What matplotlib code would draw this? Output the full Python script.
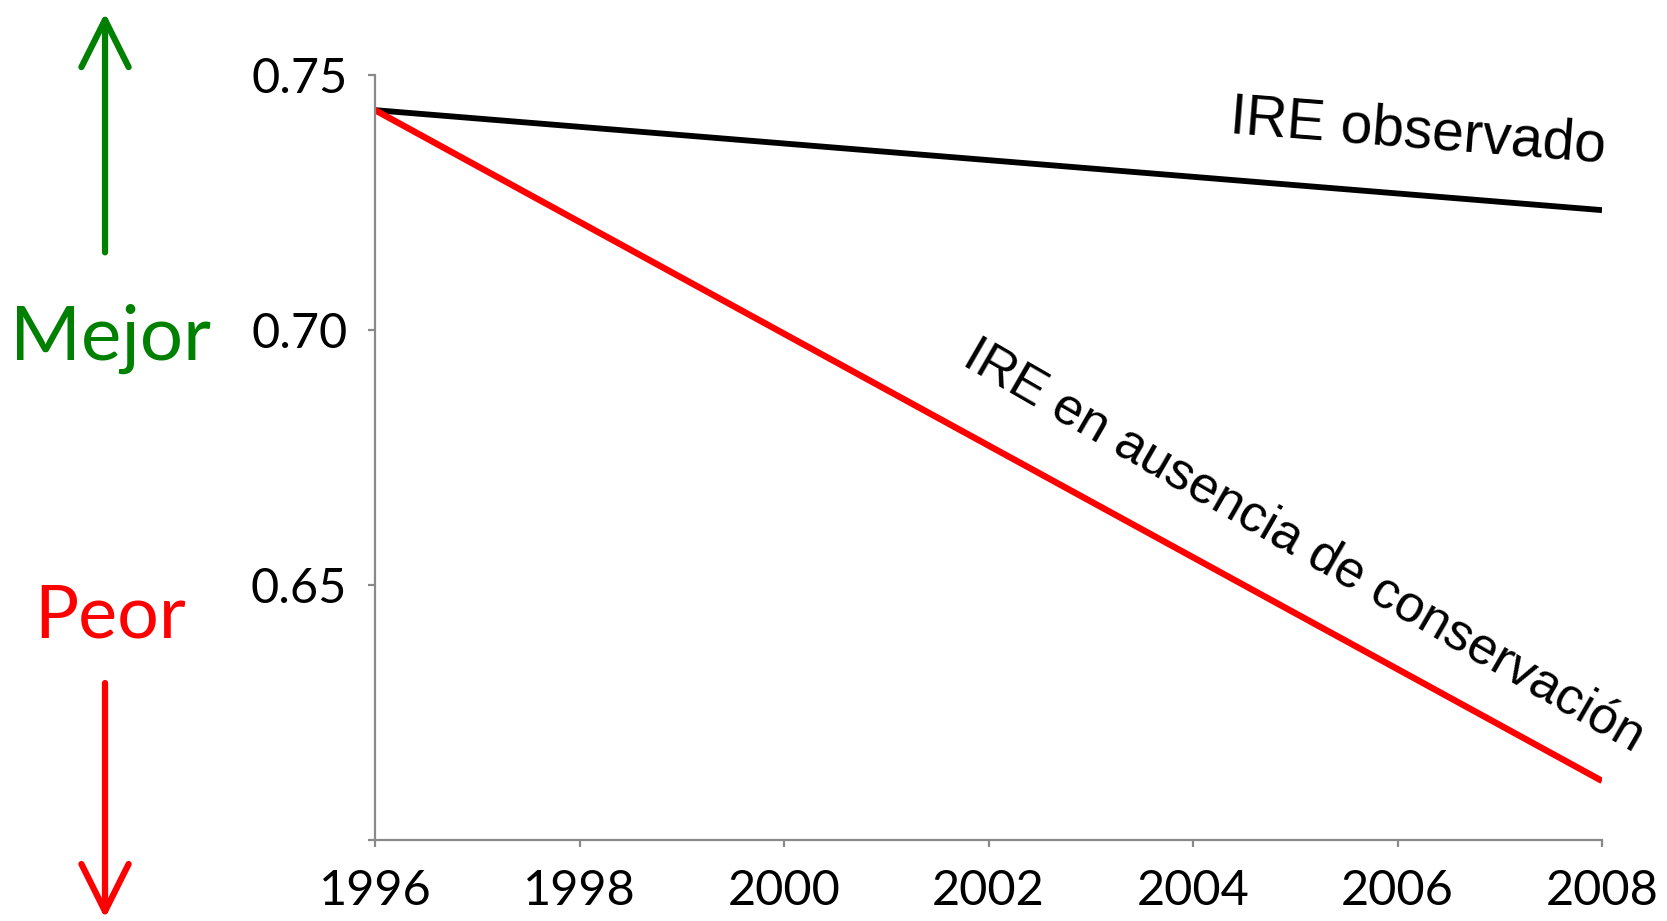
import matplotlib
matplotlib.use("Agg")
import matplotlib.pyplot as plt
from matplotlib.patches import FancyArrowPatch

# data
years = [1996, 2008]
ire_observado = [0.7431, 0.7235]
ire_sin_conservacion = [0.7431, 0.6116]

xticks = [1996, 1998, 2000, 2002, 2004, 2006, 2008]
yticks = [0.60, 0.65, 0.70, 0.75]
ytick_labels = ["", "0.65", "0.70", "0.75"]

label_obs = "IRE observado"
label_sin = "IRE en ausencia de conservación"

fig = plt.figure(figsize=(16.67, 9.21), dpi=100)
ax = fig.add_axes([0.225, 0.0879, 0.736, 0.8307])

ax.plot(years, ire_observado, color="black", lw=4.2, solid_capstyle="butt")
ax.plot(years, ire_sin_conservacion, color="#FF0000", lw=4.6, solid_capstyle="butt")

ax.set_xlim(1996, 2008)
ax.set_ylim(0.60, 0.75)
ax.set_xticks(xticks)
ax.set_yticks(yticks)
ax.set_yticklabels(ytick_labels)

for s in ["top", "right"]:
    ax.spines[s].set_visible(False)
for s in ["left", "bottom"]:
    ax.spines[s].set_color("#898989")
    ax.spines[s].set_linewidth(1.6)

ax.tick_params(axis="both", direction="out", length=5, width=1.6, color="#898989",
               labelsize=35, labelcolor="black")
ax.tick_params(axis="x", pad=16)
ax.tick_params(axis="y", pad=15)
for lab in ax.get_xticklabels() + ax.get_yticklabels():
    lab.set_family("Lato")

# line labels
ax.text(2006.2, 0.7388, label_obs, rotation=-4.5, ha="center", va="center",
        fontsize=41, family="Liberation Sans", color="black")
ax.text(2005.08, 0.6574, label_sin, rotation=-30, ha="center", va="center",
        fontsize=37.5, family="Liberation Sans", color="black")

# Mejor / Peor with arrows
fig.text(0.0662, 0.609, "Mejor", ha="center", va="baseline", fontsize=55,
         family="Lato", color="#008000")
fig.text(0.0662, 0.308, "Peor", ha="center", va="baseline", fontsize=53,
         family="Lato", color="#FF0000")

up = FancyArrowPatch((0.063, 0.726), (0.063, 0.986), transform=fig.transFigure,
                     arrowstyle="->,head_length=34,head_width=17", mutation_scale=1,
                     color="#008000", lw=4.5, shrinkA=0, shrinkB=0)
down = FancyArrowPatch((0.063, 0.2584), (0.063, 0.003), transform=fig.transFigure,
                       arrowstyle="->,head_length=34,head_width=17", mutation_scale=1,
                       color="#FF0000", lw=4.5, shrinkA=0, shrinkB=0)
fig.patches.extend([up, down])

fig.savefig("out.png", dpi=100)
